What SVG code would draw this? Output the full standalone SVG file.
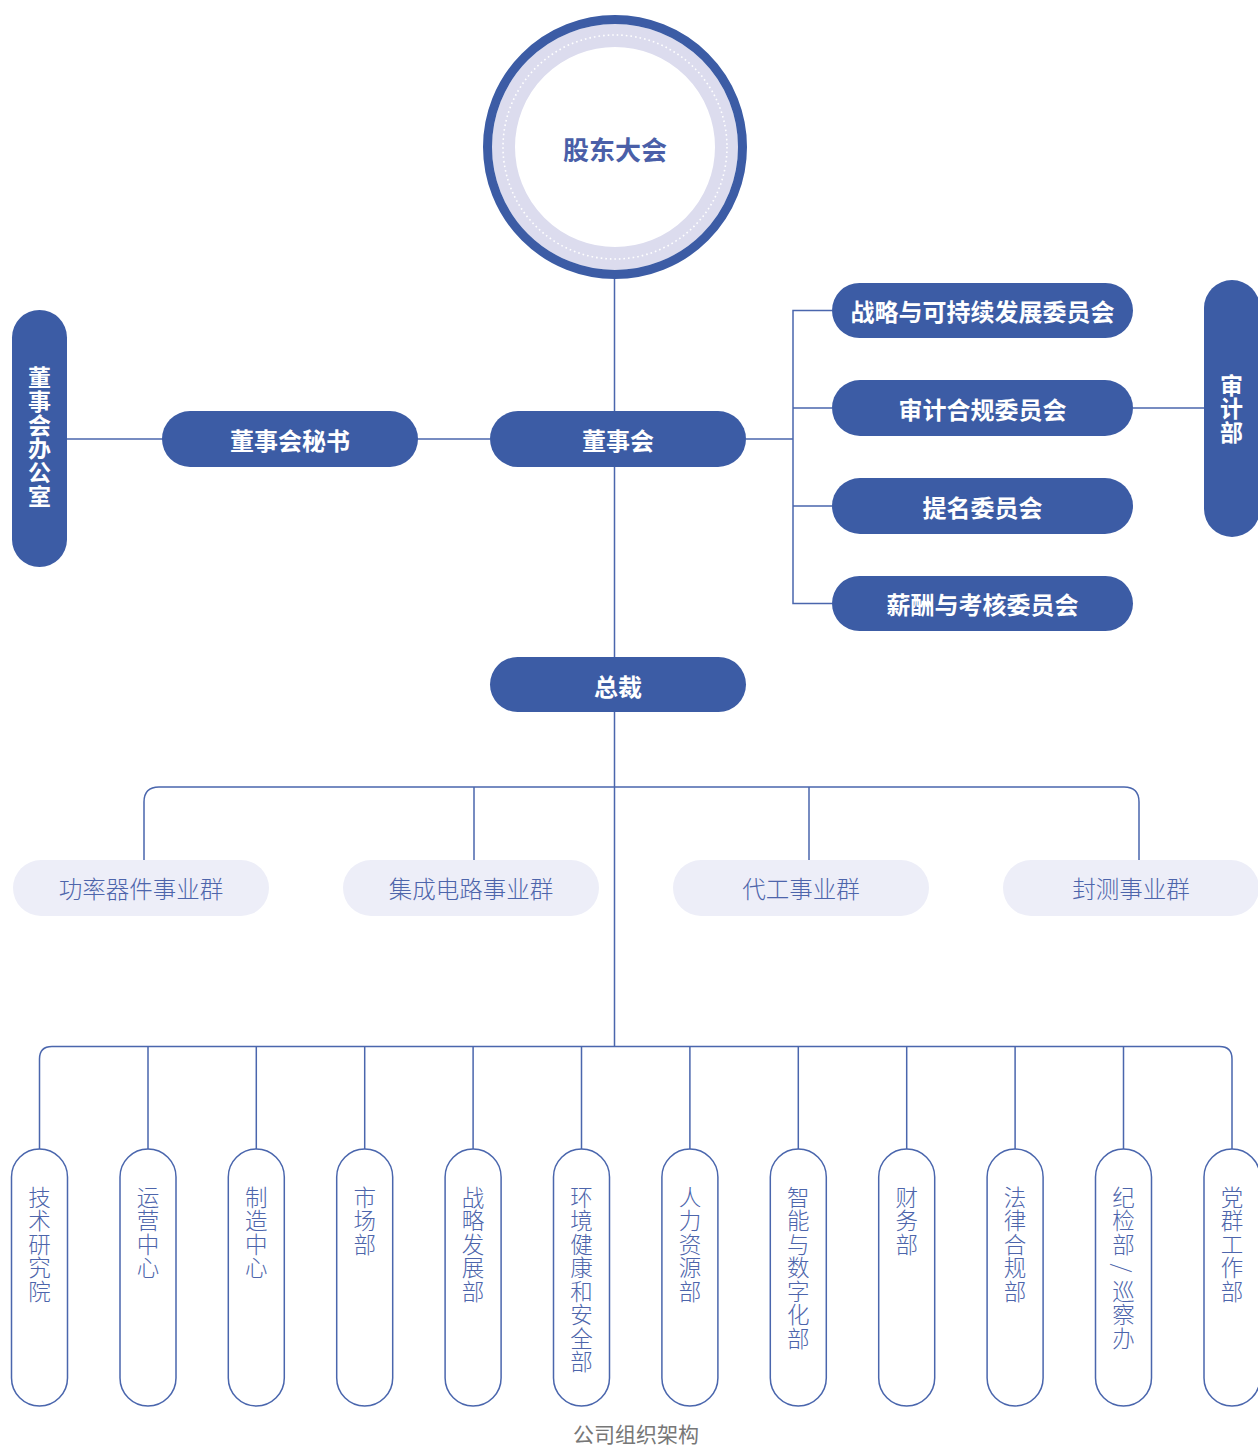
<svg xmlns="http://www.w3.org/2000/svg" width="1258" height="1449" viewBox="0 0 1258 1449">
<style>
.ln{fill:none;stroke:#4a66ad;stroke-width:1.5}
.dk{fill:#3c5ca5}
.lt{fill:#edeef8}
.dp{fill:#fff;stroke:#4a66ad;stroke-width:1.5}
.tw{font-family:"Noto Sans CJK SC","Noto Sans",sans-serif;font-weight:bold;fill:#fff;font-size:24px;text-anchor:middle;dominant-baseline:central}
.vw{font-family:"Noto Sans CJK SC","Noto Sans",sans-serif;font-weight:bold;fill:#fff;font-size:23px;writing-mode:vertical-rl;letter-spacing:0.7px}
.tb{font-family:"Noto Sans CJK SC","Noto Sans",sans-serif;font-weight:300;fill:#4d65ab;font-size:23.5px;text-anchor:middle;dominant-baseline:central}
.td{font-family:"Noto Sans CJK SC","Noto Sans",sans-serif;font-weight:300;fill:#4d65ab;font-size:22.5px;writing-mode:vertical-rl;letter-spacing:1px}
.ts{font-family:"Noto Sans CJK SC","Noto Sans",sans-serif;font-weight:300;fill:#4d65ab;font-size:22.5px;text-anchor:middle;dominant-baseline:central}
.cap{font-family:"Noto Sans CJK SC","Noto Sans",sans-serif;fill:#777;font-size:21px;text-anchor:middle}
</style>
<rect width="1258" height="1449" fill="#fff"/>
<g id="connectors">
<line class="ln" x1="614.5" y1="278" x2="614.5" y2="1046"/>
<line class="ln" x1="67" y1="439" x2="490" y2="439"/>
<line class="ln" x1="746" y1="439" x2="793" y2="439"/>
<path class="ln" d="M832,310.5 H793 V603.5 H832 M793,408 H832 M793,506 H832"/>
<line class="ln" x1="1133" y1="408" x2="1204" y2="408"/>
<path class="ln" d="M144,860 V802 Q144,787 159,787 H1124 Q1139,787 1139,802 V860"/>
<line class="ln" x1="474" y1="787" x2="474" y2="860"/>
<line class="ln" x1="809" y1="787" x2="809" y2="860"/>
<path class="ln" d="M39.5,1149 V1059 Q39.5,1046.5 52,1046.5 H1219.5 Q1232,1046.5 1232,1059 V1149"/>
<path class="ln" d="M148,1046.5 V1149 M256.3,1046.5 V1149 M364.7,1046.5 V1149 M473.1,1046.5 V1149 M581.5,1046.5 V1149 M689.9,1046.5 V1149 M798.3,1046.5 V1149 M906.7,1046.5 V1149 M1015.1,1046.5 V1149 M1123.5,1046.5 V1149"/>
</g>
<g id="shareholders">
<circle cx="615" cy="147" r="111.5" fill="#fff" stroke="#dcdcee" stroke-width="23"/>
<circle cx="615" cy="147" r="127.5" fill="none" stroke="#3c5ca5" stroke-width="9"/>
<circle cx="615" cy="147" r="112" fill="none" stroke="#fff" stroke-width="1.6" stroke-dasharray="1.6 3"/>
<text x="615" y="148" class="tw" style="fill:#4a5fa8;font-size:26px">股东大会</text>
</g>
<g id="board-office">
<rect class="dk" x="12" y="310" width="55" height="257" rx="27.5"/>
<text class="vw" x="39.5" y="366">董事会办公室</text>
</g>
<g id="board-secretary">
<rect class="dk" x="162" y="411" width="256" height="56" rx="28"/>
<text class="tw" x="290" y="439">董事会秘书</text>
</g>
<g id="board">
<rect class="dk" x="490" y="411" width="256" height="56" rx="28"/>
<text class="tw" x="618" y="439">董事会</text>
</g>
<g id="committee-strategy">
<rect class="dk" x="832" y="283" width="301" height="55" rx="27.5"/>
<text class="tw" x="982.5" y="310.5">战略与可持续发展委员会</text>
</g>
<g id="committee-audit">
<rect class="dk" x="832" y="380" width="301" height="56" rx="28"/>
<text class="tw" x="982.5" y="408">审计合规委员会</text>
</g>
<g id="committee-nomination">
<rect class="dk" x="832" y="478" width="301" height="56" rx="28"/>
<text class="tw" x="982.5" y="506">提名委员会</text>
</g>
<g id="committee-remuneration">
<rect class="dk" x="832" y="576" width="301" height="55" rx="27.5"/>
<text class="tw" x="982.5" y="603.5">薪酬与考核委员会</text>
</g>
<g id="audit-dept">
<rect class="dk" x="1204" y="280" width="56" height="257" rx="28"/>
<text class="vw" x="1231.5" y="373.5">审计部</text>
</g>
<g id="president">
<rect class="dk" x="490" y="657" width="256" height="55" rx="27.5"/>
<text class="tw" x="618" y="685">总裁</text>
</g>
<g id="bg-power">
<rect class="lt" x="13" y="860" width="256" height="56" rx="28"/>
<text class="tb" x="141" y="888">功率器件事业群</text>
</g>
<g id="bg-ic">
<rect class="lt" x="343" y="860" width="256" height="56" rx="28"/>
<text class="tb" x="471" y="888">集成电路事业群</text>
</g>
<g id="bg-foundry">
<rect class="lt" x="673" y="860" width="256" height="56" rx="28"/>
<text class="tb" x="801" y="888">代工事业群</text>
</g>
<g id="bg-packaging">
<rect class="lt" x="1003" y="860" width="256" height="56" rx="28"/>
<text class="tb" x="1131" y="888">封测事业群</text>
</g>
<g id="dept-1"><rect class="dp" x="11.5" y="1149" width="56" height="257" rx="28"/><text class="td" x="39.5" y="1186">技术研究院</text></g>
<g id="dept-2"><rect class="dp" x="120" y="1149" width="56" height="257" rx="28"/><text class="td" x="148" y="1186">运营中心</text></g>
<g id="dept-3"><rect class="dp" x="228.3" y="1149" width="56" height="257" rx="28"/><text class="td" x="256.3" y="1186">制造中心</text></g>
<g id="dept-4"><rect class="dp" x="336.7" y="1149" width="56" height="257" rx="28"/><text class="td" x="364.7" y="1186">市场部</text></g>
<g id="dept-5"><rect class="dp" x="445.1" y="1149" width="56" height="257" rx="28"/><text class="td" x="473.1" y="1186">战略发展部</text></g>
<g id="dept-6"><rect class="dp" x="553.5" y="1149" width="56" height="257" rx="28"/><text class="td" x="581.5" y="1186">环境健康和安全部</text></g>
<g id="dept-7"><rect class="dp" x="661.9" y="1149" width="56" height="257" rx="28"/><text class="td" x="689.9" y="1186">人力资源部</text></g>
<g id="dept-8"><rect class="dp" x="770.3" y="1149" width="56" height="257" rx="28"/><text class="td" x="798.3" y="1186">智能与数字化部</text></g>
<g id="dept-9"><rect class="dp" x="878.7" y="1149" width="56" height="257" rx="28"/><text class="td" x="906.7" y="1186">财务部</text></g>
<g id="dept-10"><rect class="dp" x="987.1" y="1149" width="56" height="257" rx="28"/><text class="td" x="1015.1" y="1186">法律合规部</text></g>
<g id="dept-11"><rect class="dp" x="1095.5" y="1149" width="56" height="257" rx="28"/>
<text class="td" x="1123.5" y="1186">纪检部</text>
<text class="ts" x="1123.5" y="1268" transform="rotate(90 1123.5 1268)">/</text>
<text class="td" x="1123.5" y="1280">巡察办</text></g>
<g id="dept-12"><rect class="dp" x="1204" y="1149" width="56" height="257" rx="28"/><text class="td" x="1232" y="1186">党群工作部</text></g>
<text class="cap" x="636" y="1442">公司组织架构</text>
</svg>
